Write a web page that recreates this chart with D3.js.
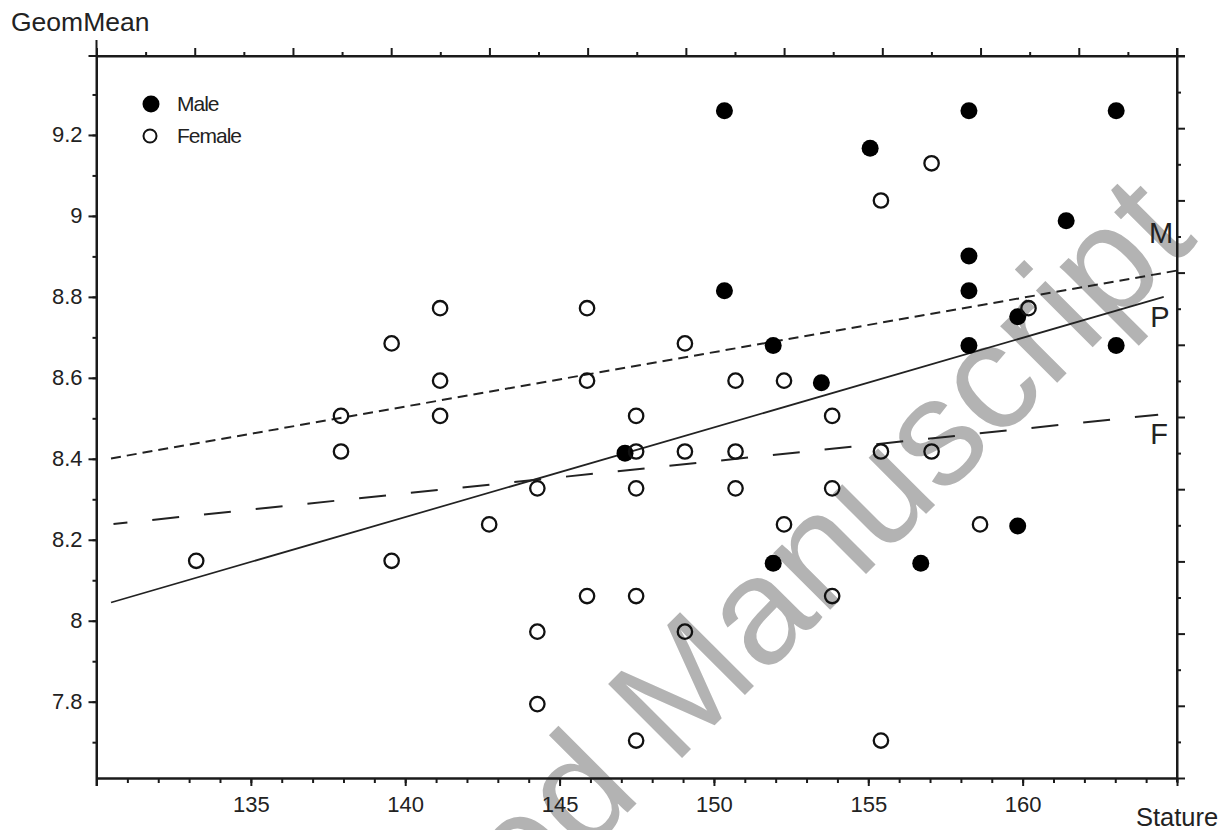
<!DOCTYPE html>
<html>
<head>
<meta charset="utf-8">
<script src="https://cdn.jsdelivr.net/npm/d3@7"></script>
<style>
    body { margin: 0; background: #fff; }
    svg { font-family: "Liberation Sans", Arial, sans-serif; }
    .axis path, .axis line { stroke: #1a1a1a; stroke-width: 2; }
    .axis text { font-size: 22px; fill: #222; font-family: "Liberation Sans", Arial, sans-serif; }
</style>
</head>
<body>
<script>
// data
let maleStature = [150.34, 158.26, 163.03, 155.06, 161.41, 158.26, 150.34, 158.26, 159.84,
    151.92, 158.26, 163.03, 153.48, 147.12, 159.84, 151.92, 156.70];
let maleGeomMean = [9.260, 9.260, 9.260, 9.167, 8.988, 8.901, 8.815, 8.815, 8.751,
    8.680, 8.680, 8.680, 8.588, 8.414, 8.234, 8.142, 8.142];

let femaleStature = [157.05, 155.41, 141.13, 145.89, 160.19, 139.56, 149.06, 141.13, 145.89,
    150.70, 152.27, 137.92, 141.13, 147.48, 153.83, 137.92, 147.48, 149.06, 150.70, 155.41,
    157.05, 144.28, 147.48, 150.70, 153.83, 142.72, 152.27, 158.62, 133.23, 139.56, 145.89,
    147.48, 153.83, 144.28, 149.06, 144.28, 147.48, 155.41];
let femaleGeomMean = [9.130, 9.038, 8.772, 8.772, 8.772, 8.685, 8.685, 8.593, 8.593,
    8.593, 8.593, 8.506, 8.506, 8.506, 8.506, 8.418, 8.418, 8.418, 8.418, 8.418,
    8.418, 8.327, 8.327, 8.327, 8.327, 8.238, 8.238, 8.238, 8.148, 8.148, 8.061,
    8.061, 8.061, 7.973, 7.973, 7.794, 7.704, 7.704];

let lineNames = ["M", "P", "F"];
let lineStart = [[130.47, 8.401], [130.47, 8.045], [130.55, 8.239]];
let lineEnd = [[165.0, 8.865], [164.57, 8.800], [164.39, 8.509]];
let lineLabelAt = [[164.09, 8.933], [164.13, 8.726], [164.13, 8.437]];

let xTickLabels = [135, 140, 145, 150, 155, 160];
let yTickLabels = [7.8, 8, 8.2, 8.4, 8.6, 8.8, 9, 9.2];
let legendNames = ["Male", "Female"];

let svgContainer,
    svgWidth = 1230,
    svgHeight = 830,
    svgMargin = {
        top: 56,
        right: 53,
        bottom: 52,
        left: 96.5
    },
    xScale = d3.scaleLinear().domain([130, 165]).range([svgMargin.left, svgWidth - svgMargin.right]),
    yScale = d3.scaleLinear().domain([7.6115, 9.395]).range([svgHeight - svgMargin.bottom, svgMargin.top]),
    topScale = d3.scaleLinear().domain([0, 22]).range(xScale.range()),
    rightScale = d3.scaleLinear().domain([0, 20]).range([svgMargin.top, svgHeight - svgMargin.bottom]);

let lineDash = {M: "10,6", P: null, F: "27,25"};
let lineDashOffset = {M: 0, P: 0, F: 13};
let lineWidth = {M: 2, P: 1.7, F: 2};

function init() {
    svgContainer = d3.select("body").append("svg")
        .attr("width", svgWidth)
        .attr("height", svgHeight);
    drawWatermark();
    drawAxes();
    drawLines();
    drawPoints(maleStature, maleGeomMean, true);
    drawPoints(femaleStature, femaleGeomMean, false);
    drawLegend();
    drawTitles();
}

function drawWatermark() {
    svgContainer.append("text")
        .attr("transform", "translate(1199,241) rotate(-45)")
        .attr("text-anchor", "end")
        .style("font-size", "152px")
        .style("fill", "#b3b3b3")
        .text("Accepted Manuscript");
}

function drawAxes() {
    let x0 = xScale.range()[0], x1 = xScale.range()[1];
    let y0 = yScale.range()[0], y1 = yScale.range()[1];

    // bottom, minor then major
    svgContainer.append("g").attr("class", "axis")
        .attr("transform", "translate(0," + y0 + ")")
        .call(d3.axisBottom(xScale).tickValues(d3.range(130, 166)).tickSize(5).tickSizeOuter(0).tickFormat(""));
    svgContainer.append("g").attr("class", "axis")
        .attr("transform", "translate(0," + y0 + ")")
        .call(d3.axisBottom(xScale).tickValues(d3.range(130, 166, 5)).tickSize(8).tickSizeOuter(0).tickPadding(10)
            .tickFormat(d => xTickLabels.includes(d) ? d : ""));

    // left, minor then major
    svgContainer.append("g").attr("class", "axis")
        .attr("transform", "translate(" + x0 + ",0)")
        .call(d3.axisLeft(yScale).tickValues(d3.range(77, 94).map(v => v / 10)).tickSize(4).tickSizeOuter(0).tickFormat(""));
    svgContainer.append("g").attr("class", "axis")
        .attr("transform", "translate(" + x0 + ",0)")
        .call(d3.axisLeft(yScale).tickValues(yTickLabels).tickSize(8).tickSizeOuter(0).tickPadding(6)
            .tickFormat(d => String(+d.toFixed(1))));

    // top and right, ticks only
    let top = svgContainer.append("g").attr("class", "axis")
        .attr("transform", "translate(0," + y1 + ")")
        .call(d3.axisTop(topScale).tickValues(d3.range(0, 23)).tickSize(8).tickSizeOuter(0).tickFormat(""));
    top.selectAll(".tick line").filter(d => d % 2 === 1).attr("y2", -4);

    let right = svgContainer.append("g").attr("class", "axis")
        .attr("transform", "translate(" + x1 + ",0)")
        .call(d3.axisRight(rightScale).tickValues(d3.range(0, 21)).tickSize(8).tickSizeOuter(0).tickFormat(""));
    right.selectAll(".tick line").filter(d => d % 2 === 1).attr("x2", 4);

    // frame ends poke out a little
    let frame = svgContainer.append("g").style("stroke", "#1a1a1a").style("stroke-width", 2);
    frame.append("line").attr("x1", x0).attr("x2", x0).attr("y1", y1 - 16).attr("y2", y0 + 8);
    frame.append("line").attr("x1", x0 - 8).attr("x2", x1 + 8).attr("y1", y1).attr("y2", y1);
    frame.append("line").attr("x1", x1).attr("x2", x1).attr("y1", y1 - 8).attr("y2", y0 + 4);
}

function drawLines() {
    lineNames.forEach((name, i) => {
        svgContainer.append("line")
            .attr("x1", xScale(lineStart[i][0]))
            .attr("y1", yScale(lineStart[i][1]))
            .attr("x2", xScale(lineEnd[i][0]))
            .attr("y2", yScale(lineEnd[i][1]))
            .style("stroke", "#222")
            .style("stroke-width", lineWidth[name])
            .style("stroke-dasharray", lineDash[name])
            .style("stroke-dashoffset", lineDashOffset[name]);

        svgContainer.append("text")
            .attr("x", xScale(lineLabelAt[i][0]))
            .attr("y", yScale(lineLabelAt[i][1]))
            .style("font-size", "29px")
            .style("fill", "#222")
            .text(name);
    });
}

function drawPoints(stature, geomMean, filled) {
    stature.forEach((s, i) => {
        let c = svgContainer.append("circle")
            .attr("cx", xScale(s))
            .attr("cy", yScale(geomMean[i]));
        if (filled) {
            c.attr("r", 8.5).style("fill", "#000");
        } else {
            c.attr("r", 7.2).style("fill", "none").style("stroke", "#111").style("stroke-width", 2.3);
        }
    });
}

function drawLegend() {
    let legend = svgContainer.append("g");
    legendNames.forEach((name, i) => {
        let cy = 104 + i * 32;
        if (i === 0) {
            legend.append("circle").attr("cx", 151).attr("cy", cy).attr("r", 8.5).style("fill", "#000");
        } else {
            legend.append("circle").attr("cx", 150).attr("cy", cy).attr("r", 6.5)
                .style("fill", "none").style("stroke", "#111").style("stroke-width", 2);
        }
        legend.append("text")
            .attr("x", 177)
            .attr("y", cy + 7)
            .style("font-size", "21px")
            .style("letter-spacing", "-1px")
            .style("fill", "#222")
            .text(name);
    });
}

function drawTitles() {
    svgContainer.append("text")
        .attr("x", 11)
        .attr("y", 31)
        .style("font-size", "26.5px")
        .style("fill", "#222")
        .text("GeomMean");
    svgContainer.append("text")
        .attr("x", 1136)
        .attr("y", 826)
        .style("font-size", "25.5px")
        .style("fill", "#222")
        .text("Stature");
}

init();
</script>
</body>
</html>
